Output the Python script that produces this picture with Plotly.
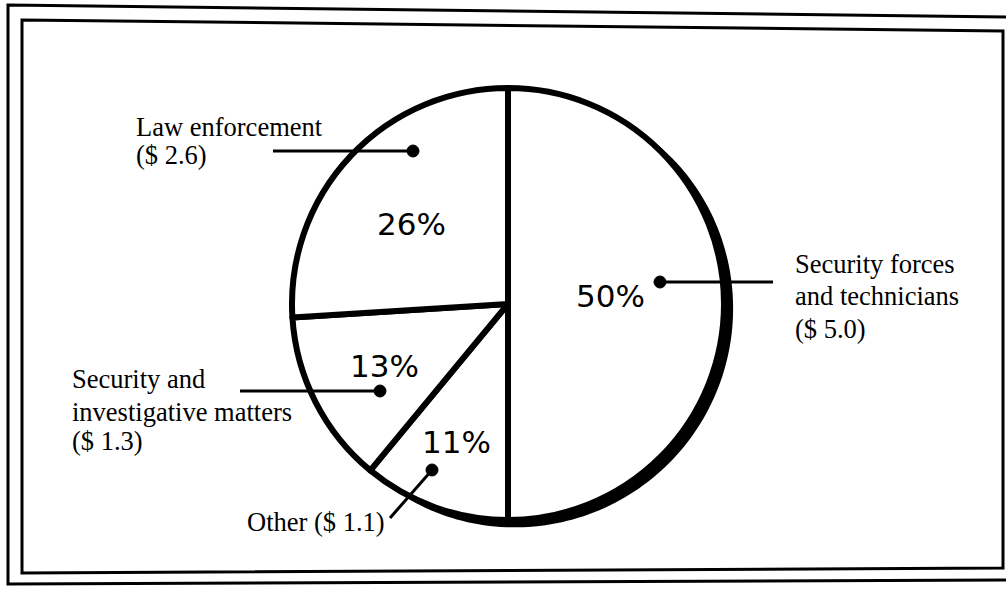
import math
import plotly.graph_objects as go

# ---- data ----
categories = ["Security forces and technicians", "Other",
              "Security and investigative matters", "Law enforcement"]
values = [5.0, 1.1, 1.3, 2.6]
label_lines = [
    ["Security forces", "and technicians", "($ 5.0)"],
    ["Other ($ 1.1)"],
    ["Security and", "investigative matters", "($ 1.3)"],
    ["Law enforcement", "($ 2.6)"],
]

W, H = 1006, 592

def px(x):
    return x / W

def py(y):
    return 1 - y / H

# layout geometry (pixels)
cx, cy, R = 508, 304, 216
RIM = 6
pct_pos = [(610, 296), (456, 442), (384, 366), (411, 224)]
label_pos = [  # left x, line centre ys
    (793, [264, 296, 329]),
    (245, [522]),
    (70, [379, 412, 441]),
    (134, [127, 155]),
]
leaders = [  # (line start, dot)
    ((773, 282), (660, 282)),
    ((390, 518), (432, 470)),
    ((240, 391), (380, 391)),
    ((273, 151), (413, 151)),
]

fig = go.Figure(go.Pie(
    values=values, labels=categories, sort=False,
    direction="clockwise", rotation=0,
    marker=dict(colors=["white"] * 4, line=dict(color="black", width=RIM)),
    textinfo="none",
    domain=dict(x=[px(cx - R), px(cx + R)], y=[py(cy + R), py(cy - R)]),
    showlegend=False, hoverinfo="skip",
))

shapes = []
# double frame
shapes.append(dict(type="path", xref="paper", yref="paper",
                   path=f"M {px(8)},{py(5)} L {px(1012)},{py(17)} L {px(1012)},{py(580)} L {px(8)},{py(584)} Z",
                   line=dict(color="black", width=3)))
shapes.append(dict(type="path", xref="paper", yref="paper",
                   path=f"M {px(22)},{py(20)} L {px(1003)},{py(31)} L {px(1003)},{py(568)} L {px(22)},{py(573)} Z",
                   line=dict(color="black", width=3)))

# heavier print on the lower-right rim (as in the scanned original): smooth crescent
a0, a1, n = 40, 212, 120
r_in = R - 1
outer, inner = [], []
for i in range(n + 1):
    a_deg = a0 + (a1 - a0) * i / n
    t = (a_deg - a0) / (a1 - a0)
    extra = 9.5 * math.sin(math.pi * t) ** 0.7
    a = math.radians(a_deg)
    ro = r_in + 2 + extra
    outer.append(f"{px(cx + ro * math.sin(a))},{py(cy - ro * math.cos(a))}")
    inner.append(f"{px(cx + r_in * math.sin(a))},{py(cy - r_in * math.cos(a))}")
crescent = "M " + " L ".join(outer + inner[::-1]) + " Z"
shapes.append(dict(type="path", xref="paper", yref="paper", path=crescent,
                   fillcolor="black", line=dict(width=0)))

# leader lines and dots
for (x0, y0), (x1, y1) in leaders:
    shapes.append(dict(type="line", xref="paper", yref="paper",
                       x0=px(x0), y0=py(y0), x1=px(x1), y1=py(y1),
                       line=dict(color="black", width=3)))
    r = 6
    shapes.append(dict(type="circle", xref="paper", yref="paper",
                       x0=px(x1 - r), y0=py(y1 + r), x1=px(x1 + r), y1=py(y1 - r),
                       fillcolor="black", line=dict(color="black", width=1)))

annotations = []
total = sum(values)
for (x, y), v in zip(pct_pos, values):
    annotations.append(dict(text=f"{round(100 * v / total)}%", x=px(x), y=py(y),
                            xref="paper", yref="paper", xanchor="center", yanchor="middle",
                            showarrow=False,
                            font=dict(family="DejaVu Sans", size=31, color="black")))
for (x, ys), lines in zip(label_pos, label_lines):
    for yy, t in zip(ys, lines):
        annotations.append(dict(text=t, x=px(x), y=py(yy), xref="paper", yref="paper",
                                xanchor="left", yanchor="middle", showarrow=False,
                                font=dict(family="Liberation Serif", size=26.5, color="black")))

fig.update_layout(
    width=W, height=H, margin=dict(l=0, r=0, t=0, b=0),
    paper_bgcolor="white", plot_bgcolor="white",
    shapes=shapes, annotations=annotations,
)
fig.write_html("out.html", config={"displayModeBar": False},
               post_script="document.body.style.margin='0';")
